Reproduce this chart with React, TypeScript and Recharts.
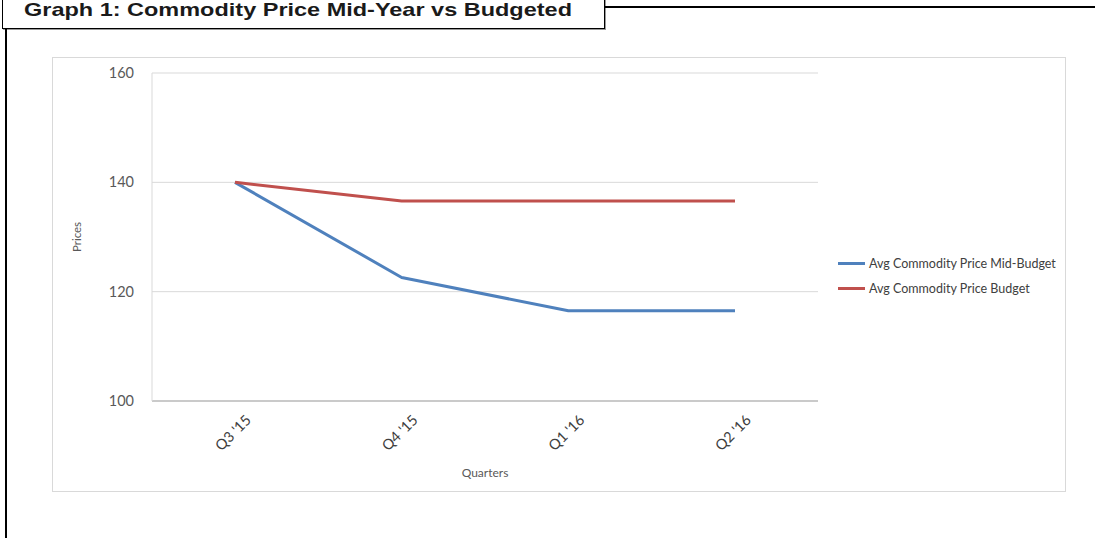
import { LineChart, Line, XAxis, YAxis, CartesianGrid, Legend } from "recharts";

// values
const quarters = ["Q3 '15", "Q4 '15", "Q1 '16", "Q2 '16"];
const midBudgetPrices = [140, 122.6, 116.5, 116.5];
const budgetPrices = [140, 136.6, 136.6, 136.6];
const priceTicks = [100, 120, 140, 160];
const seriesNames = ["Avg Commodity Price Mid-Budget", "Avg Commodity Price Budget"];

const chartData = quarters.map((q, i) => ({
  quarter: q,
  mid: midBudgetPrices[i],
  budget: budgetPrices[i],
}));

const labelFont = "Lato, 'Open Sans', sans-serif";

const QuarterTick = ({ x, y, payload }: any) => {
  const ax = x + 17;
  const ay = y + 20;
  return (
    <text
      x={ax}
      y={ay}
      transform={`rotate(-45 ${ax} ${ay})`}
      textAnchor="end"
      fontSize={14.5}
      fill="#404040"
      fontFamily={labelFont}
    >
      {payload.value}
    </text>
  );
};

// keep the legend in series order (Excel style), not alphabetical
const LegendContent = ({ payload }: any) => {
  const items = [...(payload || [])].sort(
    (a: any, b: any) => seriesNames.indexOf(a.value) - seriesNames.indexOf(b.value)
  );
  return (
    <div style={{ fontFamily: labelFont, fontSize: 12.5, color: "#404040" }}>
      {items.map((entry: any) => (
        <div key={entry.value} style={{ display: "flex", alignItems: "center", height: 25 }}>
          <span style={{ width: 27, height: 3, background: entry.color, marginRight: 4 }} />
          <span>{entry.value}</span>
        </div>
      ))}
    </div>
  );
};

export default function App() {
  return (
    <div
      style={{
        position: "absolute",
        left: 0,
        top: 0,
        width: 1095,
        height: 538,
        background: "#fff",
        overflow: "hidden",
      }}
    >
      {/* title box */}
      <div
        style={{
          position: "absolute",
          left: 2,
          top: -12,
          width: 603,
          height: 41,
          boxSizing: "border-box",
          border: "1.5px solid #000",
          boxShadow: "1px 1px 0 #9a9a9a",
        }}
      />
      <svg width={605} height={29} style={{ position: "absolute", left: 0, top: 0 }}>
        <text
          x={24}
          y={16}
          fontSize={19}
          fontWeight="bold"
          fontFamily="'Liberation Sans Narrow', 'Arial Narrow', 'Liberation Sans', sans-serif"
          textLength={548}
          lengthAdjust="spacingAndGlyphs"
          fill="#1a1a1a"
        >
          Graph 1: Commodity Price Mid-Year vs Budgeted
        </text>
      </svg>
      <div style={{ position: "absolute", left: 605, top: 5.5, width: 490, height: 2.5, background: "#000" }} />
      <div style={{ position: "absolute", left: 5, top: 29, width: 1.5, height: 509, background: "#000" }} />

      {/* chart frame */}
      <div
        style={{
          position: "absolute",
          left: 52,
          top: 57,
          width: 1014,
          height: 435,
          boxSizing: "border-box",
          border: "1px solid #d9d9d9",
        }}
      />
      <div style={{ position: "absolute", left: 52, top: 57 }}>
        <LineChart width={1014} height={435} data={chartData} margin={{ top: 16, right: 248, left: 0, bottom: 0 }}>
          <CartesianGrid vertical={false} stroke="#d9d9d9" />
          <XAxis
            dataKey="quarter"
            height={91}
            padding={{ left: 83, right: 83 }}
            tickLine={false}
            tickSize={0}
            tickMargin={0}
            axisLine={{ stroke: "#bfbfbf", strokeWidth: 1.5 }}
            tick={<QuarterTick />}
            interval={0}
            label={(props: any) => {
              const vb = props.viewBox;
              return (
                <text
                  x={vb.x + vb.width / 2}
                  y={vb.y + 76}
                  textAnchor="middle"
                  fontSize={12}
                  fill="#595959"
                  fontFamily={labelFont}
                >
                  Quarters
                </text>
              );
            }}
          />
          <YAxis
            width={100}
            domain={[100, 160]}
            ticks={priceTicks}
            tickLine={false}
            tickSize={0}
            tickMargin={18}
            axisLine={{ stroke: "#d9d9d9" }}
            tick={{ fontSize: 14.5, fill: "#595959", fontFamily: labelFont }}
            label={(props: any) => {
              const vb = props.viewBox;
              const cx = vb.x + 26;
              const cy = vb.y + vb.height / 2;
              return (
                <text
                  x={cx}
                  y={cy}
                  transform={`rotate(-90 ${cx} ${cy})`}
                  textAnchor="middle"
                  dominantBaseline="middle"
                  fontSize={11.5}
                  fill="#595959"
                  fontFamily={labelFont}
                >
                  Prices
                </text>
              );
            }}
          />
          <YAxis
            yAxisId="right"
            orientation="right"
            width={0}
            domain={[100, 160]}
            tick={false}
            tickLine={false}
            axisLine={{ stroke: "#d9d9d9" }}
          />
          <Legend
            layout="vertical"
            align="center"
            verticalAlign="middle"
            wrapperStyle={{ left: 786, top: 193.5, width: 240 }}
            content={<LegendContent />}
          />
          <Line
            dataKey="mid"
            name={seriesNames[0]}
            stroke="#4f81bd"
            strokeWidth={3}
            strokeLinejoin="round"
            dot={false}
            activeDot={false}
            isAnimationActive={false}
          />
          <Line
            dataKey="budget"
            name={seriesNames[1]}
            stroke="#c0504d"
            strokeWidth={3}
            strokeLinejoin="round"
            dot={false}
            activeDot={false}
            isAnimationActive={false}
          />
        </LineChart>
      </div>
    </div>
  );
}
